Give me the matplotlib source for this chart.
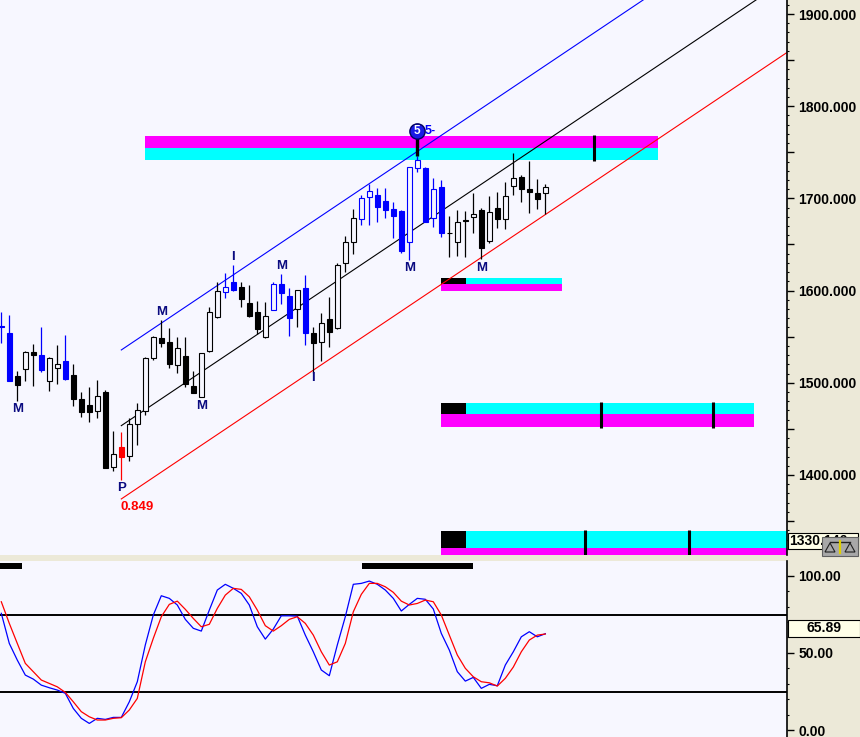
import matplotlib
matplotlib.use("Agg")
import matplotlib.pyplot as plt
import matplotlib.transforms as mtransforms
from matplotlib.patches import Rectangle, Polygon
from matplotlib.lines import Line2D
import numpy as np

plt.rcParams["font.family"] = ["Liberation Sans", "DejaVu Sans"]

# daily bars, oldest first
opens = [1561.0, 1554.3, 1507.4, 1514.6, 1533.4, 1529.8, 1502.0, 1515.7, 1523.6, 1508.5,
         1482.4, 1475.9, 1469.1, 1489.7, 1408.4, 1430.7, 1420.9, 1455.0, 1469.4, 1526.6,
         1548.3, 1543.9, 1519.0, 1528.7, 1496.9, 1484.9, 1534.8, 1571.7, 1598.8, 1609.3,
         1603.9, 1586.2, 1576.5, 1550.0, 1579.3, 1606.8, 1594.1, 1579.7, 1602.8, 1553.7,
         1543.9, 1568.9, 1559.1, 1629.6, 1652.4, 1677.3, 1701.2, 1703.7, 1697.2, 1688.2,
         1686.7, 1653.0, 1732.6, 1732.6, 1678.4, 1712.0, 1662.6, 1652.4, 1675.9, 1680.2,
         1687.4, 1654.1, 1689.3, 1677.3, 1713.8, 1722.9, 1710.2, 1706.2, 1705.5]
highs = [1577.1, 1573.5, 1513.1, 1534.8, 1542.1, 1560.2, 1527.7, 1540.7, 1551.8, 1520.1,
         1490.4, 1495.1, 1503.0, 1492.2, 1447.7, 1446.6, 1461.5, 1478.4, 1528.3, 1550.8,
         1568.1, 1559.1, 1549.3, 1549.3, 1512.8, 1532.6, 1582.5, 1609.7, 1618.8, 1627.8,
         1609.3, 1606.1, 1588.7, 1587.3, 1609.3, 1618.0, 1602.8, 1601.0, 1616.6, 1560.5,
         1575.4, 1593.1, 1630.3, 1659.2, 1688.2, 1703.7, 1715.6, 1711.0, 1711.0, 1696.4,
         1687.5, 1734.5, 1746.0, 1734.0, 1721.8, 1720.0, 1680.9, 1687.4, 1686.3, 1705.5,
         1689.3, 1702.6, 1707.3, 1718.1, 1748.9, 1725.4, 1740.9, 1720.7, 1715.3]
lows = [1542.8, 1502.0, 1480.6, 1502.3, 1496.9, 1512.0, 1490.8, 1498.4, 1502.7, 1475.2,
        1463.2, 1457.8, 1461.5, 1407.5, 1404.7, 1394.6, 1415.2, 1432.5, 1465.1, 1524.7,
        1539.2, 1515.7, 1511.0, 1495.8, 1488.6, 1484.6, 1533.7, 1570.0, 1591.6, 1600.0,
        1581.9, 1571.7, 1552.9, 1548.9, 1578.6, 1585.5, 1551.1, 1560.8, 1541.0, 1510.3,
        1524.0, 1538.5, 1558.0, 1620.5, 1639.7, 1671.1, 1671.1, 1674.1, 1678.4, 1656.7,
        1641.1, 1633.2, 1728.6, 1674.0, 1669.3, 1658.5, 1636.8, 1637.5, 1636.8, 1662.1,
        1633.9, 1651.3, 1667.6, 1666.5, 1703.7, 1696.4, 1683.8, 1688.2, 1683.1]
closes = [1560.5, 1502.3, 1497.9, 1533.4, 1529.8, 1513.9, 1526.6, 1520.4, 1503.8, 1482.8,
          1468.7, 1468.7, 1485.4, 1407.9, 1422.4, 1419.8, 1455.3, 1470.5, 1526.6, 1550.0,
          1543.5, 1520.1, 1537.4, 1498.7, 1489.3, 1532.0, 1576.5, 1599.6, 1603.9, 1600.3,
          1590.6, 1572.8, 1558.0, 1572.5, 1606.8, 1597.7, 1570.6, 1600.3, 1554.3, 1542.8,
          1564.5, 1555.4, 1627.4, 1652.7, 1678.4, 1700.1, 1707.7, 1691.0, 1687.4, 1681.2,
          1643.3, 1733.7, 1741.6, 1674.7, 1709.9, 1662.8, 1662.1, 1674.1, 1675.5, 1682.8,
          1646.5, 1684.9, 1678.0, 1702.6, 1721.8, 1710.2, 1707.3, 1699.0, 1712.0]
# w = hollow black, k = filled black, bu = hollow blue, bd = filled blue, r = red
kinds = ["bd", "bd", "k", "w", "k", "bd", "w", "w", "bd", "k",
         "k", "k", "w", "k", "w", "r", "w", "w", "w", "w",
         "k", "k", "w", "k", "k", "w", "w", "w", "bu", "bd",
         "k", "k", "k", "w", "bu", "bd", "bd", "w", "bd", "k",
         "w", "k", "w", "w", "w", "bu", "bu", "bd", "bd", "bd",
         "bd", "bu", "bu", "bd", "bu", "bd", "k", "w", "k", "w",
         "k", "w", "k", "w", "w", "k", "k", "k", "w"]

stoch_k = [75.6, 56.1, 45.3, 35.6, 33.0, 29.1, 27.4, 25.9, 23.8, 14.0,
           7.6, 4.3, 7.6, 6.9, 8.2, 8.2, 18.3, 31.3, 55.1, 74.5,
           87.0, 85.3, 81.0, 71.7, 65.9, 64.1, 77.7, 90.7, 94.4, 91.8,
           88.5, 81.0, 66.9, 58.9, 65.4, 74.0, 74.0, 73.8, 61.5, 50.7,
           38.9, 35.2, 55.1, 73.4, 94.4, 95.0, 96.5, 94.4, 90.7, 85.3,
           77.1, 81.4, 85.3, 84.7, 78.4, 62.6, 51.8, 37.8, 31.7, 34.1,
           27.0, 29.6, 28.7, 42.1, 50.7, 60.4, 63.7, 60.4, 62.4]
stoch_d = [83.1, 69.1, 56.1, 43.2, 37.8, 32.4, 30.2, 28.0, 24.4, 18.3,
           11.9, 8.6, 6.5, 6.5, 7.6, 8.0, 13.0, 20.5, 44.2, 59.4,
           73.4, 81.4, 83.5, 78.2, 72.3, 66.9, 68.5, 78.8, 87.4, 91.8,
           91.1, 86.3, 77.7, 67.6, 64.1, 67.6, 71.7, 73.4, 69.1, 61.5,
           50.7, 42.1, 44.2, 56.1, 76.6, 87.9, 95.0, 95.0, 92.8, 89.2,
           83.5, 81.0, 82.0, 84.2, 83.1, 74.5, 61.5, 48.6, 40.0, 34.5,
           31.3, 30.6, 28.5, 33.5, 40.8, 50.7, 58.3, 61.5, 62.2]
stoch_last = 65.89
stoch_levels = [24.5, 74.5]

# parallel channel anchored at the P bar
chan_bar = 15
chan_levels = [1535.6, 1453.5, 1374.0]
chan_colors = ["#0000FF", "#000000", "#FF0000"]
chan_slope = 5.82

# target zones: start, end of black box, end, top, middle, bottom, colours, marks
zone_start = [17.96, 54.96, 54.96, 54.96]
zone_box_end = [None, 58.09, 58.09, 58.09]
zone_end = [82.09, 70.09, 94.09, 99.0]
zone_top = [1767.7, 1613.7, 1478.1, 1339.3]
zone_mid = [1755.2, 1606.8, 1465.8, 1320.8]
zone_bottom = [1741.6, 1599.6, 1452.4, 1300.0]
zone_upper_color = ["#FF00FF", "#00FFFF", "#00FFFF", "#00FFFF"]
zone_lower_color = ["#00FFFF", "#FF00FF", "#FF00FF", "#FF00FF"]
zone_marks = [[74.09], [], [75.0, 89.0], [73.0, 86.0]]

last_price_label = "1330.146"
last_price = 1328.5

BG = "#F7F7FF"
PANEL = "#ECE9D8"
NAVY = "#0A0A80"

fig = plt.figure(figsize=(8.6, 7.37), dpi=100, facecolor=PANEL)
W, H = 860.0, 737.0
ax = fig.add_axes([0, 1 - 555 / H, 787 / W, 555 / H], facecolor=BG)
ax2 = fig.add_axes([0, 0, 787 / W, 176 / H], facecolor=BG)

xlim = (-0.1625, 98.21)
for a in (ax, ax2):
    a.set_xlim(*xlim)
    a.set_xticks([])
    for s in ("top", "left", "bottom"):
        a.spines[s].set_visible(False)
    a.spines["right"].set_color("black")
    a.spines["right"].set_linewidth(1.2)
    a.yaxis.tick_right()
    a.tick_params(axis="y", direction="out", length=5, width=1, pad=3,
                  labelsize=10, colors="black")
    a.tick_params(axis="y", which="minor", direction="out", length=1.5, width=0.8)

ax.set_ylim(1313.2, 1915.2)
ax2.set_ylim(-4.5, 109.5)

# price axis
major = np.arange(1350, 1901, 50)
ax.set_yticks(major, [f"{v:.3f}" if v % 100 == 0 else "" for v in major],
              fontweight="bold")
ax.set_yticks(np.arange(1320, 1911, 10), minor=True)
ax2.set_yticks([0, 50, 100], ["0.00", "50.00", "100.00"], fontweight="bold")
ax2.set_yticks(np.arange(0, 106, 10), minor=True)

# zones
for i in range(len(zone_start)):
    x0 = zone_start[i]
    w = zone_end[i] - x0
    ax.broken_barh([(x0, w)], (zone_mid[i], zone_top[i] - zone_mid[i]),
                   facecolors=zone_upper_color[i], zorder=1)
    ax.broken_barh([(x0, w)], (zone_bottom[i], zone_mid[i] - zone_bottom[i]),
                   facecolors=zone_lower_color[i], zorder=1)
    if zone_box_end[i] is not None:
        ax.broken_barh([(x0, zone_box_end[i] - x0)],
                       (zone_mid[i], zone_top[i] - zone_mid[i]),
                       facecolors="black", zorder=1.1)
    for m in zone_marks[i]:
        ax.vlines(m, zone_bottom[i] - 1.5, zone_top[i] + 1.5, color="black",
                  lw=2.2, zorder=1.2)

# channel lines
xs = np.array([chan_bar, xlim[1] + 1])
for lvl, c in zip(chan_levels, chan_colors):
    ax.plot(xs, lvl + chan_slope * (xs - chan_bar), color=c, lw=0.8, zorder=1.5)

# candles
bw = 0.625
for i in range(len(opens)):
    o, h, l, c, k = opens[i], highs[i], lows[i], closes[i], kinds[i]
    col = {"w": "black", "k": "black", "bu": "#0000FF", "bd": "#0000FF", "r": "#FF0000"}[k]
    hollow = k in ("w", "bu")
    ax.vlines(i, l, h, color=col, lw=0.9, zorder=2)
    lo = min(o, c)
    ht = max(abs(c - o), 0.9)
    ax.add_patch(Rectangle((i - bw / 2, lo), bw, ht,
                           facecolor=BG if hollow else col, edgecolor=col,
                           lw=0.8, zorder=3))

# pivot marker "5"
ax.vlines(52, highs[52], 1766, color="black", lw=2.4, zorder=3.5)
ax.text(52.9, 1773, "5-", color="#0000FF", fontsize=9, fontweight="bold",
        ha="left", va="center", zorder=3.6)
ax.plot([52], [1773], marker="o", ms=11, mfc="#1A1AE6", mec="#000060", mew=1,
        zorder=4)
ax.text(52, 1773, "5", color="white", fontsize=8.5, fontweight="bold",
        ha="center", va="center", zorder=5)

# swing labels
labels = [("M", 2, 1471.5), ("M", 20, 1577), ("M", 25, 1475), ("I", 29, 1636.5),
          ("M", 35, 1627), ("I", 39, 1505), ("M", 51, 1624.5), ("M", 60, 1624.5),
          ("P", 15, 1386)]
for t, bx, py in labels:
    ax.text(bx, py, t, color=NAVY, fontsize=9.5, fontweight="bold",
            ha="center", va="center", zorder=5)
ax.text(14.9, 1365.5, "0.849", color="#FF0000", fontsize=9.5, fontweight="bold",
        ha="left", va="center", zorder=5)

# last price box on the axis
bt = mtransforms.blended_transform_factory(ax.transAxes, ax.transData)
ax.add_patch(Rectangle((788 / 787, last_price - 8.7), 70 / 787, 17.4, transform=bt,
                       facecolor="#FFFFE8", edgecolor="black", lw=0.8,
                       clip_on=False, zorder=6))
ax.text(789.5 / 787, last_price, last_price_label, transform=bt, ha="left",
        va="center", fontsize=10, fontweight="bold", clip_on=False, zorder=7)

# small scale-icon button over the box
fig.add_artist(Rectangle((822 / W, 1 - 556 / H), 36 / W, 19 / H,
                         transform=fig.transFigure, facecolor="#A8A8A8",
                         edgecolor="#606060", lw=0.8, zorder=8))
for cx in (830, 850):
    fig.add_artist(Polygon([((cx - 5) / W, 1 - 552 / H), ((cx + 5) / W, 1 - 552 / H),
                            (cx / W, 1 - 543 / H)], closed=True, fill=False,
                           edgecolor="#202020", lw=0.8,
                           transform=fig.transFigure, zorder=9))
fig.add_artist(Line2D([830 / W, 850 / W], [1 - 542 / H, 1 - 542 / H],
                      color="#202020", lw=1, transform=fig.transFigure, zorder=9))
fig.add_artist(Line2D([840 / W, 840 / W], [1 - 541 / H, 1 - 553 / H],
                      color="#E0D000", lw=1.6, transform=fig.transFigure, zorder=9))

# stochastic panel
xb = np.arange(len(stoch_k))
for lvl in stoch_levels:
    ax2.axhline(lvl, color="black", lw=1.4, zorder=1)
ax2.plot(xb, stoch_k, color="#0000FF", lw=0.9, zorder=2)
ax2.plot(xb, stoch_d, color="#FF0000", lw=0.9, zorder=3)
ax2.broken_barh([(-0.2, 2.8), (45.09, 13.87)], (104.6, 3.3), facecolors="black",
                zorder=2)

bt2 = mtransforms.blended_transform_factory(ax2.transAxes, ax2.transData)
ax2.add_patch(Rectangle((788 / 787, stoch_last - 5.4), 72 / 787, 10.8,
                        transform=bt2, facecolor="#FFFFE8", edgecolor="black",
                        lw=0.8, clip_on=False, zorder=6))
ax2.text(824 / 787, stoch_last, f"{stoch_last:.2f}", transform=bt2, ha="center",
         va="center", fontsize=10, fontweight="bold", clip_on=False, zorder=7)

fig.savefig("out.png", dpi=100, facecolor=PANEL)
